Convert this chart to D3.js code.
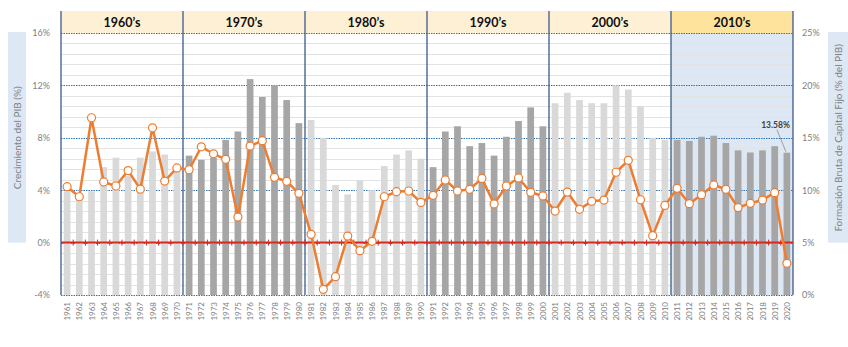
<!DOCTYPE html>
<html>
<head>
<meta charset="utf-8">
<script src="https://cdn.jsdelivr.net/npm/d3@7"></script>
<style>
  body { margin: 0; background: #fff; }
  svg { display: block; font-family: Lato, "Noto Sans", sans-serif; }
</style>
</head>
<body>
<div id="chart"></div>
<script>
// decades shown in the header band
var decades = ["1960’s", "1970’s", "1980’s", "1990’s", "2000’s", "2010’s"];

var years = d3.range(1961, 2021).map(String);

// Formacion bruta de capital fijo, % del PIB (bars, right axis)
var fbkf = [9.9, 9.4, 9.9, 12.2, 13.1, 11.4, 13.1, 13.7, 13.4, 11.8,
            13.3, 12.9, 13.1, 14.8, 15.6, 20.6, 18.9, 20.0, 18.6, 16.4,
            16.7, 15.0, 10.5, 9.6, 10.9, 10.0, 12.3, 13.4, 13.8, 13.0,
            12.2, 15.6, 16.1, 14.2, 14.5, 13.3, 15.1, 16.6, 17.9, 16.1,
            18.3, 19.3, 18.6, 18.3, 18.3, 20.0, 19.6, 18.0, 15.0, 14.8,
            14.8, 14.7, 15.1, 15.2, 14.5, 13.8, 13.6, 13.8, 14.2, 13.58];

// Crecimiento del PIB, % (line, left axis)
var crecimiento = [4.27, 3.5, 9.53, 4.63, 4.32, 5.5, 4.08, 8.76, 4.7, 5.7,
                   5.56, 7.31, 6.78, 6.36, 1.95, 7.37, 7.78, 4.98, 4.68, 3.76,
                   0.63, -3.57, -2.6, 0.5, -0.62, 0.1, 3.5, 3.89, 3.94, 3.07,
                   3.61, 4.78, 3.94, 4.07, 4.9, 2.95, 4.32, 4.93, 3.84, 3.56,
                   2.41, 3.86, 2.54, 3.15, 3.25, 5.37, 6.28, 3.27, 0.53, 2.84,
                   4.14, 2.97, 3.66, 4.4, 4.07, 2.67, 3.0, 3.25, 3.81, -1.58];

var leftTicks = [-4, 0, 4, 8, 12, 16];
var rightTicks = [0, 5, 10, 15, 20, 25];

var width = 848, height = 347;
var plot = {left: 61, right: 793, top: 33, bottom: 295};
var headerTop = 11;

var lightBar = "#d9d9d9", darkBar = "#a6a6a6";
var orange = "#ed7d31";
var gridBlue = "#2e75b6";

var svg = d3.select("#chart")
    .append("svg")
    .attr("width", width)
    .attr("height", height)

var x = d3.scaleBand()
    .domain(years)
    .range([plot.left, plot.right])
    .paddingInner(0.45)
    .paddingOuter(0.225)

var xDecade = d3.scaleBand()
    .domain(decades)
    .range([plot.left, plot.right])

var yL = d3.scaleLinear().domain([-4, 16]).range([plot.bottom, plot.top]);
var yR = d3.scaleLinear().domain([0, 25]).range([plot.bottom, plot.top]);

function decadeOf(i) { return Math.floor(i / 10); }

// last decade gets a blue backdrop
svg.append("rect")
    .attr("x", xDecade(decades[5]))
    .attr("y", plot.top)
    .attr("width", xDecade.bandwidth())
    .attr("height", plot.bottom - plot.top)
    .attr("fill", "#dde8f4")

// header band
svg.append("g").selectAll("rect")
    .data(decades)
    .enter().append("rect")
    .attr("x", d => xDecade(d))
    .attr("y", headerTop)
    .attr("width", xDecade.bandwidth())
    .attr("height", plot.top - headerTop)
    .attr("fill", (d, i) => i == 5 ? "#fee39c" : "#fdf0d4")

svg.append("g").selectAll("text")
    .data(decades)
    .enter().append("text")
    .attr("x", d => xDecade(d) + xDecade.bandwidth() / 2)
    .attr("y", 27)
    .attr("text-anchor", "middle")
    .attr("font-size", 12.5)
    .attr("font-weight", "bold")
    .attr("fill", "#111")
    .text(d => d)

// minor grid every 1% of the right axis
var minor = d3.range(1, 25).filter(v => v % 5 != 0);
svg.append("g").selectAll("line")
    .data(minor)
    .enter().append("line")
    .attr("x1", plot.left).attr("x2", plot.right)
    .attr("y1", d => Math.round(yR(d)) + 0.5)
    .attr("y2", d => Math.round(yR(d)) + 0.5)
    .attr("stroke", "#e3e3e3")
    .attr("stroke-width", 1)

// major dotted grid
svg.append("g").selectAll("line")
    .data(rightTicks)
    .enter().append("line")
    .attr("x1", plot.left).attr("x2", plot.right)
    .attr("y1", d => Math.round(yR(d)) + 0.5)
    .attr("y2", d => Math.round(yR(d)) + 0.5)
    .attr("stroke", gridBlue)
    .attr("stroke-width", 1)
    .attr("stroke-dasharray", "1.5,1")

// bars
svg.append("g").selectAll("rect")
    .data(fbkf)
    .enter().append("rect")
    .attr("x", (d, i) => x(years[i]))
    .attr("y", d => yR(d))
    .attr("width", x.bandwidth())
    .attr("height", d => yR(0) - yR(d))
    .attr("fill", (d, i) => decadeOf(i) % 2 == 0 ? lightBar : darkBar)

// decade separators
var seps = decades.map(d => xDecade(d)).concat([plot.right]);
svg.append("g").selectAll("line")
    .data(seps)
    .enter().append("line")
    .attr("x1", d => d).attr("x2", d => d)
    .attr("y1", headerTop).attr("y2", plot.bottom)
    .attr("stroke", "#3b5a8a")
    .attr("stroke-width", 1.3)

// zero line of the growth axis with year ticks
var zeroY = yL(0);
svg.append("line")
    .attr("x1", plot.left).attr("x2", plot.right)
    .attr("y1", zeroY).attr("y2", zeroY)
    .attr("stroke", "#d42a1f")
    .attr("stroke-width", 2)

var bounds = years.map(d => x(d) - x.step() * x.paddingInner() / 2).slice(1);
svg.append("g").selectAll("line")
    .data(bounds)
    .enter().append("line")
    .attr("x1", d => d).attr("x2", d => d)
    .attr("y1", zeroY - 3).attr("y2", zeroY + 3)
    .attr("stroke", "#d42a1f")
    .attr("stroke-width", 1)

// growth line
var line = d3.line()
    .x((d, i) => x(years[i]) + x.bandwidth() / 2)
    .y(d => yL(d))

svg.append("path")
    .datum(crecimiento)
    .attr("d", line)
    .attr("fill", "none")
    .attr("stroke", orange)
    .attr("stroke-width", 2.5)
    .attr("stroke-linejoin", "round")

svg.append("g").selectAll("circle")
    .data(crecimiento)
    .enter().append("circle")
    .attr("cx", (d, i) => x(years[i]) + x.bandwidth() / 2)
    .attr("cy", d => yL(d))
    .attr("r", 4)
    .attr("fill", "#fff")
    .attr("stroke", orange)
    .attr("stroke-width", 1.2)

// value callout on the last bar
var lastX = x(years[59]) + x.bandwidth() / 2;
var lastY = yR(fbkf[59]);
svg.append("line")
    .attr("x1", lastX - 10).attr("x2", lastX - 1)
    .attr("y1", lastY - 23).attr("y2", lastY - 1)
    .attr("stroke", "#8c8c8c")
    .attr("stroke-width", 0.8)
svg.append("text")
    .attr("x", lastX + 3)
    .attr("y", lastY - 25)
    .attr("text-anchor", "end")
    .attr("font-size", 8.5)
    .attr("font-weight", "bold")
    .attr("fill", "#404040")
    .text(d3.format(".2f")(fbkf[59]) + "%")

// axes
var leftAxis = svg.append("g")
    .attr("transform", "translate(" + (plot.left - 8) + ",0)")
    .call(d3.axisLeft(yL).tickValues(leftTicks).tickSize(0).tickFormat(d => d + "%"))
leftAxis.select(".domain").remove();

var rightAxis = svg.append("g")
    .attr("transform", "translate(" + (plot.right + 6) + ",0)")
    .call(d3.axisRight(yR).tickValues(rightTicks).tickSize(0).tickFormat(d => d + "%"))
rightAxis.select(".domain").remove();

svg.selectAll(".tick text")
    .attr("font-family", "Lato, 'Noto Sans', sans-serif")
    .attr("font-size", 9)
    .attr("fill", "#808080")

// rotated year labels
svg.append("g").selectAll("text")
    .data(years)
    .enter().append("text")
    .attr("transform", d => "translate(" + (x(d) + x.bandwidth() / 2 + 3) + ",302) rotate(-90)")
    .attr("text-anchor", "end")
    .attr("font-size", 8)
    .attr("fill", "#808080")
    .text(d => d)

// axis titles in shaded boxes
function axisTitle(cx, label, boxX, boxW) {
    svg.append("rect")
        .attr("x", boxX)
        .attr("y", plot.top - 1)
        .attr("width", boxW)
        .attr("height", zeroY - plot.top + 1)
        .attr("fill", "#dde8f4")
    svg.append("text")
        .attr("transform", "translate(" + cx + "," + ((plot.top + zeroY) / 2) + ") rotate(-90)")
        .attr("text-anchor", "middle")
        .attr("dominant-baseline", "central")
        .attr("font-size", 10)
        .attr("fill", "#7f7f7f")
        .text(label)
}

axisTitle(17, "Crecimiento del PIB (%)", 8, 18);
axisTitle(838, "Formación Bruta de Capital Fijo (% del PIB)", 828, 20);
</script>
</body>
</html>
